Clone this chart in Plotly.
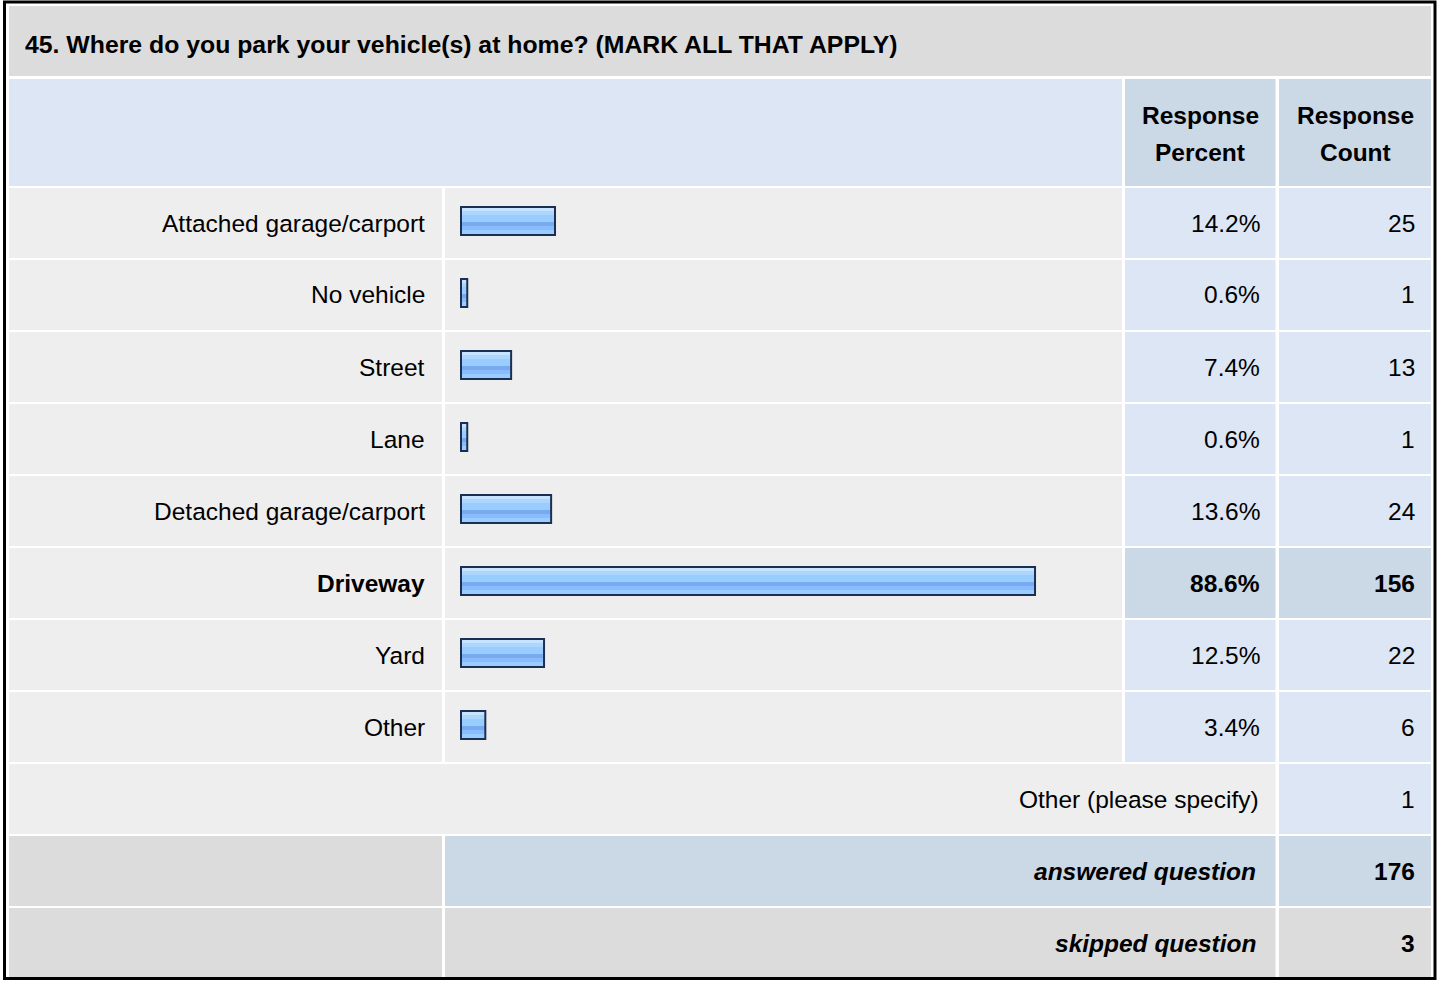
import plotly.graph_objects as go

# survey question data
title = "45. Where do you park your vehicle(s) at home? (MARK ALL THAT APPLY)"
choices = ["Attached garage/carport", "No vehicle", "Street", "Lane",
           "Detached garage/carport", "Driveway", "Yard", "Other"]
percents = [14.2, 0.6, 7.4, 0.6, 13.6, 88.6, 12.5, 3.4]
counts = [25, 1, 13, 1, 24, 156, 22, 6]
other_specify = 1
answered = 176
skipped = 3

W, H = 1437, 982
FONT = "Liberation Sans, Arial, sans-serif"
FS = 24.5

GRAY = "#DCDCDC"
LIGHT = "#EEEEEE"
BLUE = "#DCE6F4"
BLUE_DARK = "#CBD8E6"

# column edges (px)
A = (9, 442)
B = (445, 1122)
C = (1125, 1275.5)
D = (1279, 1431)
ROW0 = 188
PITCH = 72
ROWH = 70


def px(x):
    return x / W


def py(y):
    return 1 - y / H


def cell(x0, x1, y0, y1, color):
    return dict(type="rect", xref="paper", yref="paper", layer="below",
                x0=px(x0), x1=px(x1), y0=py(y1), y1=py(y0),
                fillcolor=color, line=dict(width=0))


def label(text, x, y, anchor="right", size=FS):
    return dict(text=text, x=px(x), y=py(y), xref="paper", yref="paper",
                xanchor=anchor, yanchor="middle", showarrow=False,
                borderpad=0, borderwidth=0,
                font=dict(family=FONT, size=size, color="#000000"))


imax = percents.index(max(percents))
shapes = []
annotations = []

# title and header
shapes.append(cell(A[0], D[1], 6, 76, GRAY))
annotations.append(label("<b>%s</b>" % title, 25, 44, anchor="left", size=24.8))
shapes.append(cell(A[0], B[1], 79, 186, BLUE))
shapes.append(cell(C[0], C[1], 79, 186, BLUE_DARK))
shapes.append(cell(D[0], D[1], 79, 186, BLUE_DARK))
for cx, word in [((C[0] + C[1]) / 2, "Percent"), ((D[0] + D[1]) / 2, "Count")]:
    annotations.append(label("<b>Response</b>", cx, 116, anchor="center"))
    annotations.append(label("<b>%s</b>" % word, cx, 153, anchor="center"))

# answer rows
for i, (name, p, c) in enumerate(zip(choices, percents, counts)):
    y0 = ROW0 + PITCH * i
    y1 = y0 + ROWH
    yc = (y0 + y1) / 2
    hi = i == imax
    shapes.append(cell(A[0], A[1], y0, y1, LIGHT))
    shapes.append(cell(B[0], B[1], y0, y1, LIGHT))
    shapes.append(cell(C[0], C[1], y0, y1, BLUE_DARK if hi else BLUE))
    shapes.append(cell(D[0], D[1], y0, y1, BLUE_DARK if hi else BLUE))
    fmt = "<b>%s</b>" if hi else "%s"
    annotations.append(label(fmt % name, 425, yc))
    annotations.append(label(fmt % ("%.1f%%" % p), 1260, yc))
    annotations.append(label(fmt % c, 1415, yc))

# other (please specify)
n = len(choices)
y0 = ROW0 + PITCH * n
shapes.append(cell(A[0], C[1], y0, y0 + ROWH, LIGHT))
shapes.append(cell(D[0], D[1], y0, y0 + ROWH, BLUE))
annotations.append(label("Other (please specify)", 1259, y0 + ROWH / 2))
annotations.append(label(str(other_specify), 1415, y0 + ROWH / 2))

# answered / skipped
for k, (txt, val, col) in enumerate([("answered question", answered, BLUE_DARK),
                                      ("skipped question", skipped, GRAY)]):
    y0 = ROW0 + PITCH * (n + 1 + k)
    shapes.append(cell(A[0], A[1], y0, y0 + ROWH, GRAY))
    shapes.append(cell(B[0], C[1], y0, y0 + ROWH, col))
    shapes.append(cell(D[0], D[1], y0, y0 + ROWH, col))
    annotations.append(label("<b><i>%s</i></b>" % txt, 1256, y0 + ROWH / 2))
    annotations.append(label("<b>%s</b>" % val, 1415, y0 + ROWH / 2))

# outer frame
shapes.append(dict(type="rect", xref="paper", yref="paper", layer="above",
                   x0=px(4.5), x1=px(1435), y0=py(978.5), y1=py(2),
                   line=dict(color="#000000", width=3)))

# bars: axis in % with ~6.45 px per point; bars start a hair left of zero
# so tiny values still show a sliver (as in the survey tool)
XS = 6.452
BASE = -0.37
X0 = 461 - BASE * XS
BAR_C = 221
rows = list(range(n))

fig = go.Figure()
fig.add_trace(go.Bar(x=[p - BASE for p in percents], base=BASE, y=rows,
                     orientation="h", width=28 / PITCH,
                     marker=dict(color="#99CCFF", line=dict(width=0)),
                     hoverinfo="skip"))
stripes = [("#C6E3FF", 207, 211), ("#ADD6FF", 211, 215),
           ("#77AAEE", 222, 226), ("#88BBFF", 226, 230)]
for color, top, bot in stripes:
    fig.add_trace(go.Bar(x=[p - BASE for p in percents], base=BASE, y=rows,
                         orientation="h",
                         width=(bot - top) / PITCH, offset=(top - BAR_C) / PITCH,
                         marker=dict(color=color, line=dict(width=0)),
                         hoverinfo="skip"))
fig.add_trace(go.Bar(x=[p - BASE for p in percents], base=BASE, y=rows,
                     orientation="h", width=28 / PITCH,
                     customdata=percents,
                     marker=dict(color="rgba(0,0,0,0)",
                                 line=dict(color="#1B2F52", width=2)),
                     hovertemplate="%{customdata}%<extra></extra>"))

fig.update_layout(
    width=W, height=H,
    margin=dict(l=0, r=0, t=0, b=0, pad=0),
    paper_bgcolor="#FFFFFF",
    plot_bgcolor="rgba(0,0,0,0)",
    barmode="overlay",
    showlegend=False,
    shapes=shapes,
    annotations=annotations,
    xaxis=dict(range=[-X0 / XS, (W - X0) / XS], visible=False, fixedrange=True),
    yaxis=dict(range=[(H - BAR_C) / PITCH, -BAR_C / PITCH], visible=False,
               fixedrange=True),
)

# drop the default 8px page margin so the figure sits at the window corner
fig.write_html("out.html", config=dict(displayModeBar=False),
               post_script="document.body.style.margin='0px';")
